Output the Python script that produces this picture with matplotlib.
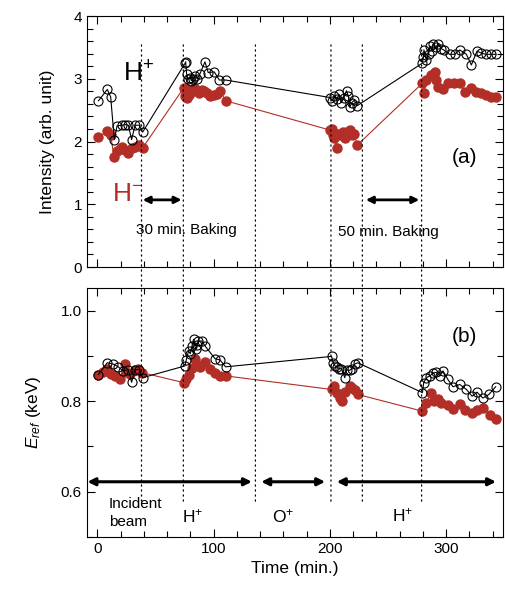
import matplotlib
matplotlib.use('Agg')
import matplotlib.pyplot as plt
from matplotlib.patches import ConnectionPatch
from matplotlib.ticker import MultipleLocator

plt.rcParams['font.family'] = ['Liberation Sans', 'DejaVu Sans']
plt.rcParams['mathtext.fontset'] = 'custom'
plt.rcParams['mathtext.it'] = 'Liberation Sans:italic'
plt.rcParams['mathtext.rm'] = 'Liberation Sans'

red = '#b22e26'

# (a) intensity, H+ (open) and H- (filled)
t_int_hp = [1, 8.6, 11.5, 14.6, 17, 21, 24, 26.7, 29.5, 32.4, 36, 39,
            75.6, 76, 76.8, 78, 79.7, 81, 82.5, 84, 86, 88.3, 92.6, 95.4, 100.6, 105, 110.4,
            200.6, 202, 204, 206, 208, 210, 212, 214.4, 216, 217.2, 219, 221, 223.5,
            279.7, 280.5, 281, 283, 285, 286.5, 288, 289, 291, 293, 296, 298, 303, 307.5,
            311.8, 317.5, 321.8, 326.6, 330.4, 334.1, 338.4, 342.7]
int_hp = [2.65, 2.83, 2.71, 2.03, 2.25, 2.26, 2.27, 2.26, 2.03, 2.26, 2.26, 2.15,
          3.25, 3.27, 3.08, 3.0, 3.02, 2.97, 3.0, 3.04, 3.0, 3.08, 3.27, 3.1, 3.11, 2.98, 2.98,
          2.70, 2.65, 2.72, 2.68, 2.75, 2.62, 2.70, 2.81, 2.72, 2.55, 2.62, 2.66, 2.57,
          3.25, 3.35, 3.46, 3.3, 3.4, 3.52, 3.45, 3.56, 3.5, 3.55, 3.48, 3.46, 3.39, 3.39,
          3.46, 3.39, 3.22, 3.44, 3.41, 3.39, 3.39, 3.39]

t_int_hm = [1, 8.6, 11.5, 14.4, 17.2, 19.5, 21.5, 24, 26.7, 29.5, 32.4, 36, 39,
            74.5, 75.5, 76.8, 78, 79, 81, 83, 85.4, 87.5, 89.7, 92, 94, 97, 100.3, 103, 105.5, 110.4,
            200.6, 201.5, 203, 204, 205.8, 207, 209, 211, 213, 215, 217.2, 219, 221, 223.5,
            279.7, 280.8, 283.1, 287.4, 290.3, 291.7, 293.2, 297.4, 301.7, 306.6, 311.8,
            316, 321.8, 326.1, 330.4, 334.7, 339, 343.3]
int_hm = [2.07, 2.16, 2.1, 1.75, 1.85, 1.88, 1.92, 1.86, 1.81, 1.89, 1.92, 1.94, 1.9,
          2.86, 2.72, 2.69, 2.8, 2.74, 2.79, 2.85, 2.82, 2.78, 2.82, 2.8, 2.78, 2.73, 2.74, 2.75, 2.81, 2.65,
          2.18, 2.2, 2.1, 2.05, 1.89, 2.12, 2.1, 2.15, 2.05, 2.15, 2.18, 2.1, 2.12, 1.94,
          2.93, 2.77, 2.98, 3.06, 3.11, 2.98, 2.87, 2.83, 2.93, 2.94, 2.94,
          2.79, 2.85, 2.79, 2.77, 2.74, 2.71, 2.71]

# (b) reflected energy
t_e_hp = [0.9, 8.6, 13.8, 18, 22.3, 26.6, 29.5, 32.4, 36, 39,
          75.4, 76.5, 78.5, 80, 81.4, 82.8, 84.5, 86, 87, 89.9, 92.7, 101.3, 105.6, 110.4,
          201.5, 203, 204.5, 206.5, 208, 210, 212.9, 214.5, 217, 219, 221.5, 224,
          279.7, 280.8, 283.1, 286, 288.8, 291.7, 294.6, 297.4, 301.6, 306, 311.8, 317.5,
          322.5, 326.6, 331.7, 336.9, 342.7]
e_hp = [0.859, 0.885, 0.882, 0.876, 0.867, 0.87, 0.842, 0.87, 0.87, 0.852,
        0.878, 0.891, 0.911, 0.905, 0.922, 0.937, 0.915, 0.925, 0.933, 0.933, 0.922, 0.894, 0.891, 0.876,
        0.899, 0.885, 0.878, 0.875, 0.872, 0.872, 0.852, 0.87, 0.868, 0.872, 0.882, 0.885,
        0.819, 0.841, 0.852, 0.856, 0.862, 0.864, 0.856, 0.867, 0.848, 0.832, 0.837, 0.826,
        0.811, 0.82, 0.807, 0.815, 0.832]

t_e_hm = [0.9, 5, 8, 11.5, 15, 19.2, 23.5, 25, 28, 32, 35, 38.7,
          74.5, 76, 78.5, 81.4, 84.3, 86, 88.5, 92.7, 97, 101.3, 105.6, 110.4,
          201.5, 203.5, 206.6, 209, 210.8, 213.5, 217, 219.5, 221.5, 224,
          279.7, 283, 287.5, 290, 293, 296, 301.7, 306, 311.8, 316, 322, 326.5, 331.7, 338, 343]
e_hm = [0.857, 0.865, 0.872, 0.86, 0.855, 0.848, 0.882, 0.865, 0.86, 0.87, 0.872, 0.863,
        0.841, 0.85, 0.859, 0.874, 0.893, 0.88, 0.876, 0.887, 0.872, 0.863, 0.856, 0.856,
        0.826, 0.833, 0.819, 0.808, 0.8, 0.82, 0.833, 0.83, 0.825, 0.815,
        0.778, 0.795, 0.819, 0.8, 0.805, 0.796, 0.792, 0.782, 0.793, 0.78, 0.775, 0.78, 0.785, 0.77, 0.761]

events = [38, 74, 136, 201, 228, 279]

fig = plt.figure(figsize=(5.05, 5.94), dpi=100)
ax1 = fig.add_axes([0.172, 0.5505, 0.824, 0.4225])
ax2 = fig.add_axes([0.172, 0.096, 0.824, 0.419])

for ax in (ax1, ax2):
    ax.set_xlim(-9, 349)
    ax.xaxis.set_major_locator(MultipleLocator(100))
    ax.xaxis.set_minor_locator(MultipleLocator(20))
    ax.tick_params(which='both', direction='in', top=True, right=True, labelsize=11)
    ax.tick_params(which='major', length=6, width=0.8)
    ax.tick_params(which='minor', length=4, width=0.8)

# top panel
ax1.plot(t_int_hm, int_hm, '-', color=red, lw=0.8)
ax1.plot(t_int_hm, int_hm, 'o', color=red, ms=6.5, mec=red)
ax1.plot(t_int_hp, int_hp, '-', color='k', lw=0.8)
ax1.plot(t_int_hp, int_hp, 'o', mfc='none', mec='k', ms=6.5, mew=0.8)
ax1.set_ylim(0, 4)
ax1.yaxis.set_major_locator(MultipleLocator(1))
ax1.yaxis.set_minor_locator(MultipleLocator(0.2))
ax1.set_xticklabels([])
ax1.set_ylabel('Intensity (arb. unit)', fontsize=12.5, labelpad=13)

ax1.text(22, 2.95, r'H$^{+}$', fontsize=19, color='k')
ax1.text(13, 1.05, r'H$^{-}$', fontsize=19, color=red)
ax1.text(305, 1.65, '(a)', fontsize=15)
ax1.text(77, 0.53, '30 min. Baking', fontsize=11, ha='center')
ax1.text(250, 0.5, '50 min. Baking', fontsize=11, ha='center')
arrow = dict(arrowstyle='<|-|>', lw=2, color='k', mutation_scale=10, shrinkA=0, shrinkB=0)
ax1.annotate('', xy=(72.5, 1.07), xytext=(39, 1.07), arrowprops=arrow)
ax1.annotate('', xy=(277, 1.07), xytext=(231, 1.07), arrowprops=arrow)

# bottom panel
ax2.plot(t_e_hm, e_hm, '-', color=red, lw=0.8)
ax2.plot(t_e_hm, e_hm, 'o', color=red, ms=6.5, mec=red)
ax2.plot(t_e_hp, e_hp, '-', color='k', lw=0.8)
ax2.plot(t_e_hp, e_hp, 'o', mfc='none', mec='k', ms=6.5, mew=0.8)
ax2.set_ylim(0.5, 1.05)
ax2.yaxis.set_major_locator(MultipleLocator(0.2))
ax2.yaxis.set_minor_locator(MultipleLocator(0.1))
ax2.set_yticks([0.6, 0.8, 1.0])
ax2.set_yticklabels(['0.6', '0.8', '1.0'])
ax2.set_xlabel('Time (min.)', fontsize=12.5)
ax2.set_ylabel(r'$E_{ref}$ (keV)', fontsize=12.5, labelpad=13)
ax2.text(305, 0.93, '(b)', fontsize=15)

arrow2 = dict(arrowstyle='<|-|>', lw=2.2, color='k', mutation_scale=11, shrinkA=0, shrinkB=0)
ax2.annotate('', xy=(133, 0.622), xytext=(-8.5, 0.622), arrowprops=arrow2)
ax2.annotate('', xy=(196, 0.622), xytext=(141, 0.622), arrowprops=arrow2)
ax2.annotate('', xy=(343, 0.622), xytext=(206, 0.622), arrowprops=arrow2)
ax2.text(10, 0.553, 'Incident\nbeam', fontsize=11, va='center', linespacing=1.3)
ax2.text(82, 0.545, r'H$^{+}$', fontsize=12.5, ha='center', va='center')
ax2.text(160, 0.545, r'O$^{+}$', fontsize=12.5, ha='center', va='center')
ax2.text(263, 0.548, r'H$^{+}$', fontsize=12.5, ha='center', va='center')

# dotted markers spanning both panels
for x in events:
    con = ConnectionPatch(xyA=(x, 3.54), coordsA=ax1.transData,
                          xyB=(x, 0.578), coordsB=ax2.transData,
                          linestyle=(0, (1, 3)), color='k', lw=0.9)
    fig.add_artist(con)

fig.savefig('out.png', dpi=100)
